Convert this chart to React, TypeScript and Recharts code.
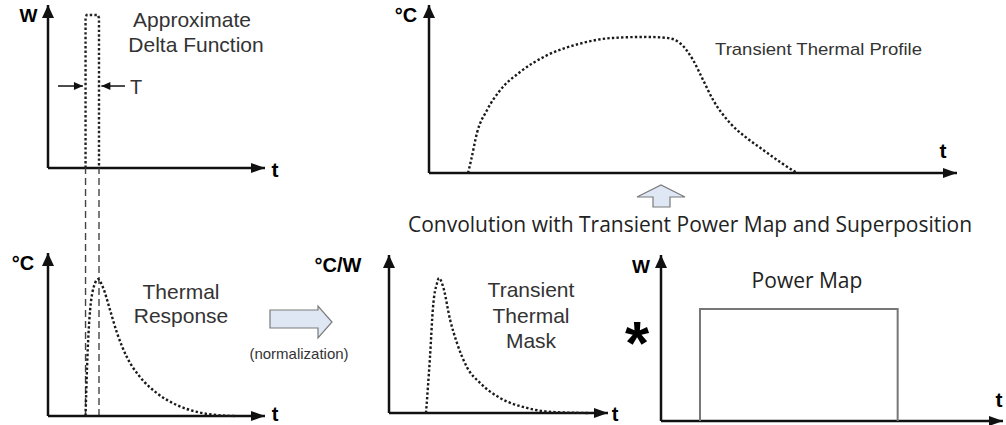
import React from 'react';
import { LineChart, Line, XAxis, YAxis, ReferenceLine, ReferenceDot } from 'recharts';

const W = 1006;
const H = 425;

// Approximate delta function (power pulse of width T)
const pulseT = [17.3, 17.3, 17.8, 23.0, 23.5, 23.5];
const pulseW = [0, 92.0, 93.9, 93.9, 92.0, 0];

// Thermal response to the pulse
const respT = [17.3, 18.0, 19.4, 21.7, 23.0, 25.3, 28.6, 31.8, 36.4, 42.4, 50.2, 59.4, 68.7, 77.9, 86];
const respC = [0, 30, 65, 81.6, 84, 79, 65, 51, 36, 24, 14, 6.7, 2.5, 0.6, 0];

// Transient thermal mask (normalized response)
const maskT = [16.9, 18.7, 20.1, 21.9, 22.8, 24.7, 27.9, 31.1, 35.6, 41.6, 50.7, 63.0, 74.9, 91.8];
const maskC = [0, 35, 67, 82, 85.4, 80, 59, 44, 29, 19, 9.5, 3.2, 0.6, 0];

// Power map (rectangular)
const powerT = [11.4, 11.4, 69.2, 69.2];
const powerW = [0, 67.5, 67.5, 0];

// Transient thermal profile
const profT = [7.4, 8.0, 9.1, 11.0, 13.4, 17.2, 22.3, 28.6, 34.8, 41.3, 45.1, 47.5, 50.0, 51.9, 53.8, 57.0, 60.2, 63.3, 66.5, 69.7];
const profC = [0, 8, 24, 37.5, 49, 60, 70, 77, 80.4, 81, 80.4, 77.4, 67.3, 55.4, 43.5, 29.8, 20.8, 13.7, 6.5, 0];

// pulse edges extended as guides down to the response plot
const guideT = [17.3, 23.5];
const guideTop = 152;

// "T" width indicator arrows (in top-left panel units)
const tArrowY = 50.3;
const tArrowLeft = [4.6, 16.1];
const tArrowRight = [35.5, 24.6];

const zip = (a: number[], b: number[]) => a.map((t, i) => ({ t, v: b[i] }));

const AXIS = '#111';
const CURVE = '#1a1a1a';
const DOTS = '2.4 2.2';

const ArrowRight = (p: any) => (
  <polygon points={`${p.cx},${p.cy} ${p.cx - 14},${p.cy - 5} ${p.cx - 14},${p.cy + 5}`} fill={AXIS} />
);
const ArrowUp = (p: any) => (
  <polygon points={`${p.cx},${p.cy} ${p.cx - 6},${p.cy + 13} ${p.cx + 6},${p.cy + 13}`} fill={AXIS} />
);
const SmallRight = (p: any) => (
  <polygon points={`${p.cx},${p.cy} ${p.cx - 9},${p.cy - 4} ${p.cx - 9},${p.cy + 4}`} fill={AXIS} />
);
const SmallLeft = (p: any) => (
  <polygon points={`${p.cx},${p.cy} ${p.cx + 9},${p.cy - 4} ${p.cx + 9},${p.cy + 4}`} fill={AXIS} />
);

type Box = { left: number; top: number; right: number; bottom: number };

function Panel({ box, data, stroke, dash, curve, width, children }: {
  box: Box; data: { t: number; v: number }[]; stroke: string; dash?: string; curve: 'monotone' | 'linear'; width: number; children?: React.ReactNode;
}) {
  return (
    <div style={{ position: 'absolute', left: 0, top: 0, width: W, height: H }}>
      <LineChart
        width={W}
        height={H}
        data={data}
        margin={{ top: box.top, left: box.left, right: W - box.right, bottom: H - box.bottom }}
      >
        <XAxis type="number" dataKey="t" domain={[0, 100]} hide />
        <YAxis type="number" domain={[0, 100]} hide />
        {children}
        <ReferenceLine segment={[{ x: 0, y: 0 }, { x: 100, y: 0 }]} stroke={AXIS} strokeWidth={2.5} ifOverflow="visible" />
        <ReferenceLine segment={[{ x: 0, y: 0 }, { x: 0, y: 100 }]} stroke={AXIS} strokeWidth={2.5} ifOverflow="visible" />
        <Line type={curve} dataKey="v" stroke={stroke} strokeWidth={width}
          strokeDasharray={dash} dot={false} activeDot={false} isAnimationActive={false} />
        <ReferenceDot x={100} y={0} r={0} shape={ArrowRight} />
        <ReferenceDot x={0} y={100} r={0} shape={ArrowUp} />
      </LineChart>
    </div>
  );
}

const sans = '"Liberation Sans", Arial, sans-serif';
const cal = '"Open Sans", "Noto Sans", sans-serif';

export default function App() {
  return (
    <div style={{ position: 'absolute', left: 0, top: 0, width: W, height: H, background: '#fff', overflow: 'hidden' }}>
      {/* top-left: approximate delta function */}
      <Panel box={{ left: 48, top: 5, right: 265, bottom: 168 }} data={zip(pulseT, pulseW)} stroke="#222" dash={DOTS} curve="linear" width={2.4}>
        <ReferenceLine segment={[{ x: tArrowLeft[0], y: tArrowY }, { x: tArrowLeft[1], y: tArrowY }]} stroke={AXIS} strokeWidth={1.5} />
        <ReferenceLine segment={[{ x: tArrowRight[0], y: tArrowY }, { x: tArrowRight[1], y: tArrowY }]} stroke={AXIS} strokeWidth={1.5} />
        <ReferenceDot x={tArrowLeft[1]} y={tArrowY} r={0} shape={SmallRight} />
        <ReferenceDot x={tArrowRight[1]} y={tArrowY} r={0} shape={SmallLeft} />
      </Panel>

      {/* bottom-left: thermal response */}
      <Panel box={{ left: 48, top: 253, right: 265, bottom: 416 }} data={zip(respT, respC)} stroke={CURVE} dash={DOTS} curve="monotone" width={2.4}>
        {guideT.map((g) => (
          <ReferenceLine key={g} segment={[{ x: g, y: 0 }, { x: g, y: guideTop }]} ifOverflow="visible"
            stroke="#444" strokeWidth={1.4} strokeDasharray="7 4" />
        ))}
      </Panel>

      {/* bottom-middle: transient thermal mask */}
      <Panel box={{ left: 389, top: 255, right: 608, bottom: 413 }} data={zip(maskT, maskC)} stroke={CURVE} dash={DOTS} curve="monotone" width={2.4} />

      {/* bottom-right: power map */}
      <Panel box={{ left: 661, top: 255, right: 1003, bottom: 421 }} data={zip(powerT, powerW)} stroke="#777" curve="linear" width={2} />

      {/* top-right: transient thermal profile */}
      <Panel box={{ left: 429, top: 5, right: 957, bottom: 173 }} data={zip(profT, profC)} stroke={CURVE} dash={DOTS} curve="monotone" width={2.4} />

      <svg width={W} height={H} style={{ position: 'absolute', left: 0, top: 0 }}>
        {/* block arrows */}
        <polygon points="270,310 318,310 318,306 332,322 318,338 318,328 270,328" fill="#dfe7f5" stroke="#7a7a7a" strokeWidth={1.2} />
        <polygon points="653,207 653,197 637,197 661,185 685,197 670,197 670,207" fill="#dfe7f5" stroke="#7a7a7a" strokeWidth={1.2} />

        <g fontFamily={sans} fill="#000" fontWeight="bold">
          <text x={28.5} y={22} fontSize={19} textAnchor="middle">W</text>
          <text x={275} y={177} fontSize={21} textAnchor="middle">t</text>
          <text x={23} y={270} fontSize={20} textAnchor="middle">°C</text>
          <text x={275} y={421} fontSize={20} textAnchor="middle">t</text>
          <text x={338} y={272} fontSize={20} textAnchor="middle">°C/W</text>
          <text x={615} y={421} fontSize={20} textAnchor="middle">t</text>
          <text x={641} y={273} fontSize={19} textAnchor="middle">W</text>
          <text x={999} y={407} fontSize={21} textAnchor="middle">t</text>
          <text x={406} y={22} fontSize={20} textAnchor="middle">°C</text>
          <text x={943} y={158} fontSize={21} textAnchor="middle">t</text>
          <text x={637} y={364} fontSize={62} textAnchor="middle">*</text>
        </g>
        <g fontFamily={sans} fill="#333">
          <text x={192} y={27} fontSize={21} textAnchor="middle">Approximate</text>
          <text x={196} y={52} fontSize={21} textAnchor="middle">Delta Function</text>
          <text x={136} y={94} fontSize={20} textAnchor="middle">T</text>
          <text x={181} y={299} fontSize={21} textAnchor="middle">Thermal</text>
          <text x={181} y={323} fontSize={21} textAnchor="middle">Response</text>
          <text x={299} y={359} fontSize={15} textAnchor="middle">(normalization)</text>
          <text x={531} y={297} fontSize={21} textAnchor="middle">Transient</text>
          <text x={531} y={323} fontSize={21} textAnchor="middle">Thermal</text>
          <text x={531} y={348} fontSize={21} textAnchor="middle">Mask</text>
          <text x={715} y={55} fontSize={17} textLength={207} lengthAdjust="spacingAndGlyphs">Transient Thermal Profile</text>
        </g>
        <g fontFamily={cal} fill="#222">
          <text x={807} y={288} fontSize={21} textAnchor="middle">Power Map</text>
          <text x={408} y={232} fontSize={21} textLength={564} lengthAdjust="spacingAndGlyphs">Convolution with Transient Power Map and Superposition</text>
        </g>
      </svg>
    </div>
  );
}
